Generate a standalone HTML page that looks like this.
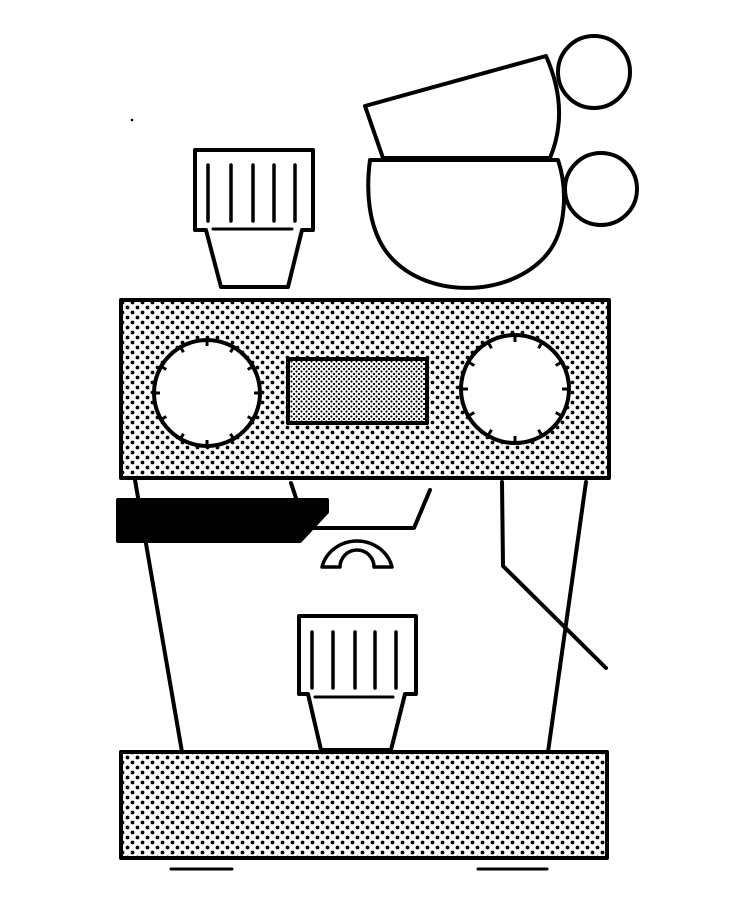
<!DOCTYPE html>
<html><head><style>html,body{margin:0;padding:0;background:#fff}svg{display:block}</style></head>
<body>
<svg width="736" height="921" viewBox="0 0 736 921" xmlns="http://www.w3.org/2000/svg">
<defs>
<pattern id="dots" width="10" height="10" patternUnits="userSpaceOnUse">
<circle cx="2.5" cy="2.5" r="1.9" fill="#000"/><circle cx="7.5" cy="7.5" r="1.9" fill="#000"/>
</pattern>
<pattern id="fine" width="5" height="5" patternUnits="userSpaceOnUse">
<circle cx="1.5" cy="1.5" r="1.1" fill="#000"/><circle cx="4" cy="4" r="1.1" fill="#000"/>
</pattern>
<g id="ticks" stroke="#000" stroke-width="3">
<line x1="0" y1="-55" x2="0" y2="-47"/>
<line x1="0" y1="-55" x2="0" y2="-47" transform="rotate(30)"/>
<line x1="0" y1="-55" x2="0" y2="-47" transform="rotate(60)"/>
<line x1="0" y1="-55" x2="0" y2="-47" transform="rotate(90)"/>
<line x1="0" y1="-55" x2="0" y2="-47" transform="rotate(120)"/>
<line x1="0" y1="-55" x2="0" y2="-47" transform="rotate(150)"/>
<line x1="0" y1="-55" x2="0" y2="-47" transform="rotate(180)"/>
<line x1="0" y1="-55" x2="0" y2="-47" transform="rotate(210)"/>
<line x1="0" y1="-55" x2="0" y2="-47" transform="rotate(240)"/>
<line x1="0" y1="-55" x2="0" y2="-47" transform="rotate(270)"/>
<line x1="0" y1="-55" x2="0" y2="-47" transform="rotate(300)"/>
<line x1="0" y1="-55" x2="0" y2="-47" transform="rotate(330)"/>
</g>
</defs>
<g fill="none" stroke="#000" stroke-width="4" stroke-linejoin="round" stroke-linecap="round">
<circle cx="132" cy="120" r="0.8" fill="#000" stroke-width="1"/>
<path d="M195 150 H313 V230 H302 L288 287 H221 L206 230 H195 Z" fill="#fff"/>
<path d="M208 165V221 M231 165V221 M253 165V221 M274 165V221 M295 165V221" stroke-width="3.5"/>
<path d="M213 229H292" stroke-width="3"/>
<circle cx="594" cy="72" r="36"/>
<path d="M365 106 L546 56 Q570 110 550 158 H383 Z" fill="#fff"/>
<circle cx="601" cy="189" r="36"/>
<path d="M370 160 H558 C568 190 566 230 548 253 C510 300 420 300 385 250 C368 225 366 190 370 160 Z" fill="#fff"/>
<rect x="121" y="300" width="488" height="178" fill="url(#dots)"/>
<circle cx="207" cy="393" r="53" fill="#fff"/>
<circle cx="515" cy="389" r="54" fill="#fff"/>
<rect x="288" y="359" width="139" height="64" fill="#fff"/>
<rect x="288" y="359" width="139" height="64" fill="url(#fine)" stroke-width="4"/>
<path d="M135 480 L182 752 M586 482 L548 752"/>
<path d="M502 482 L503 566 L606 668"/>
<path d="M291 483 L296 498"/>
<path d="M430 490 L414 528 L312 528"/>
<path d="M118 500 H327 V512 L300 541 H118 Z" fill="#000"/>
<path d="M322 567 A36 34 0 0 1 392 567 H374 A17 17 0 0 0 340 567 Z" fill="#fff" stroke-width="3.5"/>
<path d="M299 616 H416 V694 H405 L391 750 H321 L308 694 H299 Z" fill="#fff"/>
<path d="M312 632V688 M333 632V688 M355 632V688 M375 632V688 M396 632V688" stroke-width="3.5"/>
<path d="M315 697H393" stroke-width="3"/>
<rect x="121" y="752" width="486" height="106" fill="url(#dots)"/>
<path d="M171 869H232 M478 869H547" stroke-width="3"/>
</g>
<use href="#ticks" transform="translate(207 393)"/>
<use href="#ticks" transform="translate(515 389)"/>
</svg>
</body></html>
